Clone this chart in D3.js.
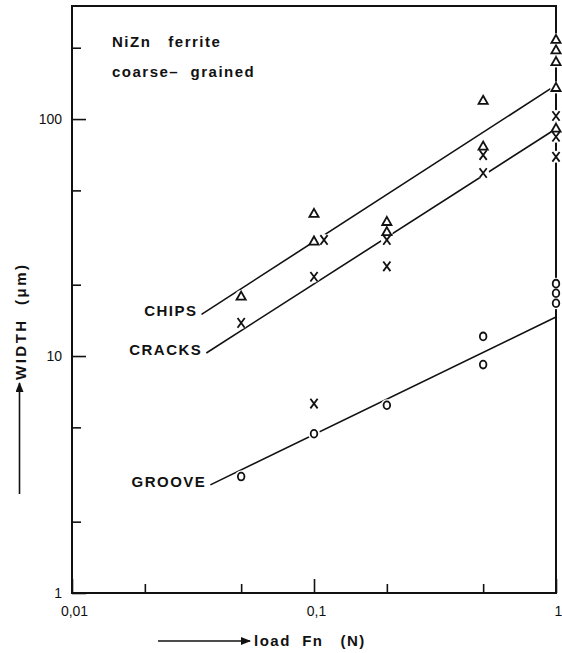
<!DOCTYPE html>
<html>
<head>
<meta charset="utf-8">
<script src="https://cdn.jsdelivr.net/npm/d3@7"></script>
<style>
  html, body { margin: 0; padding: 0; background: #fff; }
  svg { display: block; font-family: 'Liberation Sans', Arial, sans-serif; }
  .frame { fill: none; stroke: #111; stroke-width: 2; }
  .fit { fill: none; stroke: #111; stroke-width: 1.6; }
  .knockout { fill: #fff; }
  .mark { fill: none; stroke: #111; stroke-width: 1.8; }
  .axis .tick line { stroke: #111; stroke-width: 1.6; }
  .axis .tick text { font-size: 14px; fill: #111; font-family: 'Liberation Sans', Arial, sans-serif; }
  .label { font-weight: bold; font-size: 15px; fill: #111; letter-spacing: 1.5px; white-space: pre; }
</style>
</head>
<body>
<div id="graphic"></div>
<script>
(function(d3){

    // Canvas size and plot frame
    let width = 562, height = 653;
    let left = 72, right = 556, top = 6, bottom = 593;

    // Tick values and their labels
    let xMajor = [0.01, 0.1, 1], xMinor = [0.02, 0.05, 0.2, 0.5];
    let yMajor = [1, 10, 100], yMinor = [2, 5, 20, 50, 200];
    let xTickLabels = ['0,01', '0,1', '1'];
    let yTickLabels = ['1', '10', '100'];

    // Measured widths (um) against load Fn (N)
    let chipsLoad   = [0.05, 0.1, 0.1, 0.2, 0.2, 0.5, 0.5, 1, 1, 1, 1, 1];
    let chipsWidth  = [17.9, 40, 30.6, 37, 33.5, 120, 77, 217, 196, 175, 136, 91.6];
    let cracksLoad  = [0.05, 0.1, 0.11, 0.1, 0.2, 0.2, 0.5, 0.5, 1, 1, 1];
    let cracksWidth = [13.8, 21.6, 30.9, 6.3, 30.9, 23.9, 70.5, 59.2, 103, 84.2, 69.3];
    let grooveLoad  = [0.05, 0.1, 0.2, 0.5, 0.5, 1, 1, 1];
    let grooveWidth = [3.1, 4.7, 6.2, 12.1, 9.2, 20.2, 18.4, 16.7];

    // Fitted lines, [load, width] at both ends
    let chipsFit  = [[0.0343, 15.0], [1, 139]];
    let cracksFit = [[0.0359, 10.3], [1, 91]];
    let grooveFit = [[0.0373, 2.86], [1, 14.6]];

    let series = [
        { name: 'CHIPS',  load: chipsLoad,  width: chipsWidth,  fit: chipsFit,  mark: 'triangle' },
        { name: 'CRACKS', load: cracksLoad, width: cracksWidth, fit: cracksFit, mark: 'cross' },
        { name: 'GROOVE', load: grooveLoad, width: grooveWidth, fit: grooveFit, mark: 'circle' }
    ];

    let svg = d3.select('#graphic')
                .append('svg')
                .attr('width', width)
                .attr('height', height);

    svg.append('rect')
       .attr('width', width)
       .attr('height', height)
       .attr('fill', '#fff');

    let x = d3.scaleLog().domain([0.01, 1]).range([left, right]);
    let y = d3.scaleLog().domain([1, 300]).range([bottom, top]);

    // Ticks point inward, majors longer than minors
    svg.append('g')
       .attr('class', 'axis')
       .attr('transform', `translate(0 ${bottom})`)
       .call(d3.axisBottom(x).tickValues(xMajor).tickSize(-14).tickPadding(13)
               .tickFormat((d, i) => xTickLabels[i]))
       .call(g => g.select('.domain').remove())
       .call(g => g.selectAll('text').attr('dx', 2));

    svg.append('g')
       .attr('class', 'axis')
       .attr('transform', `translate(0 ${bottom})`)
       .call(d3.axisBottom(x).tickValues(xMinor).tickSize(-9).tickFormat(''))
       .call(g => g.select('.domain').remove());

    svg.append('g')
       .attr('class', 'axis')
       .attr('transform', `translate(${left} 0)`)
       .call(d3.axisLeft(y).tickValues(yMajor).tickSize(-14).tickPadding(10)
               .tickFormat((d, i) => yTickLabels[i]))
       .call(g => g.select('.domain').remove());

    svg.append('g')
       .attr('class', 'axis')
       .attr('transform', `translate(${left} 0)`)
       .call(d3.axisLeft(y).tickValues(yMinor).tickSize(-9).tickFormat(''))
       .call(g => g.select('.domain').remove());

    // Plot frame
    svg.append('rect')
       .attr('x', left)
       .attr('y', top)
       .attr('width', right - left)
       .attr('height', bottom - top)
       .attr('class', 'frame');

    // Fitted lines with their labels
    let line = d3.line().x(d => x(d[0])).y(d => y(d[1]));

    series.forEach(s => {
        svg.append('path')
           .attr('d', line(s.fit))
           .attr('class', 'fit');

        svg.append('text')
           .attr('x', x(s.fit[0][0]) - 4)
           .attr('y', y(s.fit[0][1]) + 2)
           .attr('text-anchor', 'end')
           .attr('class', 'label')
           .text(s.name);
    });

    // White patches so lines and frame break around the markers
    series.forEach(s => {
        s.load.forEach((l, i) => {
            svg.append('circle')
               .attr('cx', x(l))
               .attr('cy', y(s.width[i]))
               .attr('r', 6)
               .attr('class', 'knockout');
        });
    });

    let shapes = {
        triangle: 'M0,-4.5L4.6,3.6L-4.6,3.6Z',
        cross: 'M-3.6,-4.8L3.6,4.8M3.6,-4.8L-3.6,4.8'
    };

    series.forEach(s => {
        s.load.forEach((l, i) => {
            let cx = x(l), cy = y(s.width[i]);
            if(s.mark === 'circle') {
                svg.append('ellipse')
                   .attr('cx', cx)
                   .attr('cy', cy)
                   .attr('rx', 3.3)
                   .attr('ry', 3.9)
                   .attr('class', 'mark');
            } else {
                svg.append('path')
                   .attr('d', shapes[s.mark])
                   .attr('transform', `translate(${cx} ${cy})`)
                   .attr('class', 'mark');
            }
        });
    });

    // Material note
    svg.append('text')
       .attr('x', 112)
       .attr('y', 47)
       .attr('class', 'label')
       .text('NiZn   ferrite');

    svg.append('text')
       .attr('x', 112)
       .attr('y', 77)
       .attr('class', 'label')
       .text('coarse\u2013  grained');

    // Axis titles with arrows
    let arrow = svg.append('defs').append('marker')
        .attr('id', 'head')
        .attr('viewBox', '0 0 10 8')
        .attr('refX', 9)
        .attr('refY', 4)
        .attr('markerWidth', 10)
        .attr('markerHeight', 8)
        .attr('markerUnits', 'userSpaceOnUse')
        .attr('orient', 'auto');
    arrow.append('path').attr('d', 'M0,0L10,4L0,8Z').attr('fill', '#111');

    svg.append('line')
       .attr('x1', 158).attr('y1', 641)
       .attr('x2', 250).attr('y2', 641)
       .attr('stroke', '#111')
       .attr('stroke-width', 1.6)
       .attr('marker-end', 'url(#head)');

    svg.append('text')
       .attr('x', 254)
       .attr('y', 646)
       .attr('class', 'label')
       .text('load  Fn   (N)');

    svg.append('line')
       .attr('x1', 19.5).attr('y1', 494)
       .attr('x2', 19.5).attr('y2', 383)
       .attr('stroke', '#111')
       .attr('stroke-width', 1.6)
       .attr('marker-end', 'url(#head)');

    svg.append('text')
       .attr('transform', 'translate(26 380) rotate(-90)')
       .attr('class', 'label')
       .style('letter-spacing', '2.5px')
       .text('WIDTH  (\u03bcm)');

})(window.d3);
</script>
</body>
</html>
